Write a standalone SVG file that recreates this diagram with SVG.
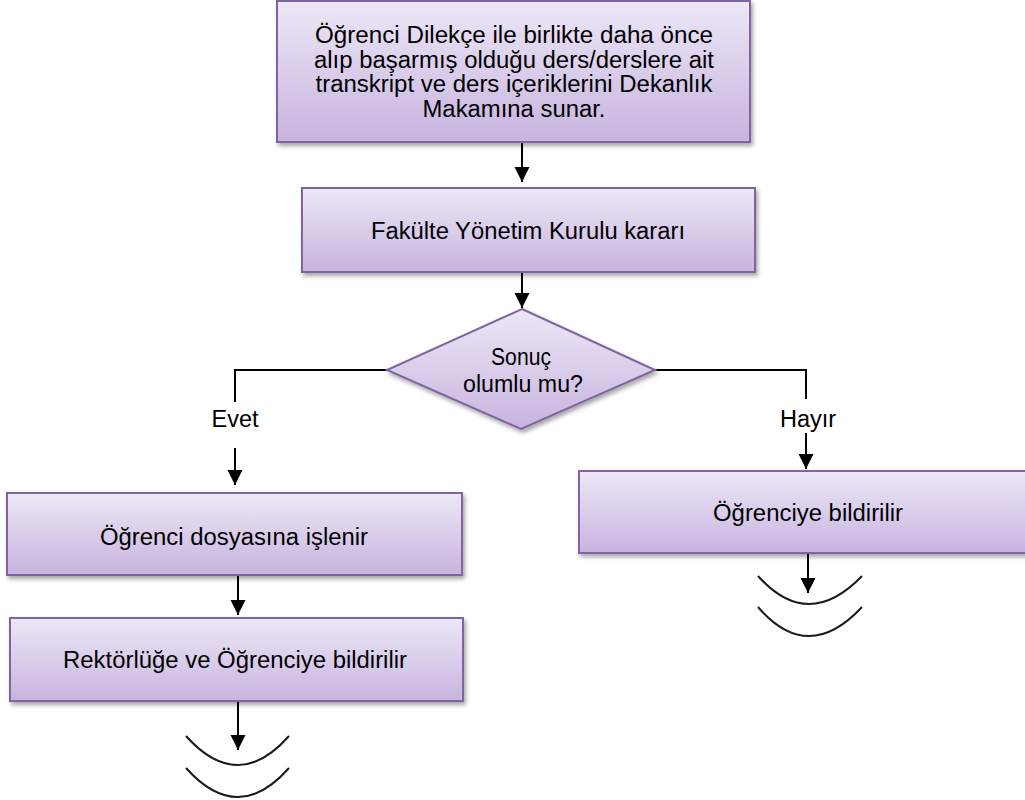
<svg xmlns="http://www.w3.org/2000/svg" width="1025" height="800" viewBox="0 0 1025 800">
  <style>
    .box { fill: url(#g); stroke: #8064a2; stroke-width: 2; filter: url(#sh); }
    .t { font-family: "Liberation Sans", Arial, sans-serif; font-size: 23.5px; fill: #000; text-anchor: middle; }
    .c { fill: none; stroke: #000; stroke-width: 2; }
    .arc { fill: none; stroke: #1a1a1a; stroke-width: 2; }
  </style>
  <defs>
    <linearGradient id="g" x1="0" y1="0" x2="0" y2="1">
      <stop offset="0" stop-color="#ede7f6"/>
      <stop offset="1" stop-color="#c7b4df"/>
    </linearGradient>
    <filter id="sh" x="-10%" y="-10%" width="130%" height="140%">
      <feDropShadow dx="2" dy="3" stdDeviation="2" flood-color="#000" flood-opacity="0.35"/>
    </filter>
    <marker id="ah" markerUnits="userSpaceOnUse" markerWidth="16" markerHeight="16" refX="15" refY="7.5" orient="auto">
      <path d="M0,0 L15,7.5 L0,15 Z" fill="#000"/>
    </marker>
  </defs>
  <rect width="1025" height="800" fill="#fff"/>

  <g id="connectors">
    <line class="c" x1="522" y1="142" x2="522" y2="182" marker-end="url(#ah)"/>
    <line class="c" x1="522" y1="273" x2="522" y2="308" marker-end="url(#ah)"/>
    <polyline class="c" points="387,370 235,370 235,402"/>
    <line class="c" x1="235" y1="448" x2="235" y2="485" marker-end="url(#ah)"/>
    <polyline class="c" points="655,370 806,370 806,399"/>
    <line class="c" x1="806" y1="433" x2="806" y2="469" marker-end="url(#ah)"/>
    <line class="c" x1="238" y1="576" x2="238" y2="615" marker-end="url(#ah)"/>
    <line class="c" x1="238" y1="702" x2="238" y2="750" marker-end="url(#ah)"/>
    <line class="c" x1="808" y1="554" x2="808" y2="593" marker-end="url(#ah)"/>
  </g>

  <g id="n1">
    <rect class="box" x="277" y="1" width="473" height="141"/>
    <text class="t" x="514" y="43" textLength="398" lengthAdjust="spacingAndGlyphs">Öğrenci Dilekçe ile birlikte daha önce</text>
    <text class="t" x="514" y="67.5" textLength="400" lengthAdjust="spacingAndGlyphs">alıp başarmış olduğu ders/derslere ait</text>
    <text class="t" x="514" y="92" textLength="397" lengthAdjust="spacingAndGlyphs">transkript ve ders içeriklerini Dekanlık</text>
    <text class="t" x="514" y="116.5" textLength="183" lengthAdjust="spacingAndGlyphs">Makamına sunar.</text>
  </g>

  <g id="n2">
    <rect class="box" x="302" y="188" width="453" height="84"/>
    <text class="t" x="528" y="239" textLength="314" lengthAdjust="spacingAndGlyphs">Fakülte Yönetim Kurulu kararı</text>
  </g>

  <g id="n3">
    <polygon class="box" points="522,309 655,370 521,429 387,370"/>
    <text class="t" x="521" y="365" textLength="60" lengthAdjust="spacingAndGlyphs">Sonuç</text>
    <text class="t" x="523" y="392" textLength="120" lengthAdjust="spacingAndGlyphs">olumlu mu?</text>
  </g>

  <g id="lbl-evet">
    <text class="t" x="235" y="427">Evet</text>
  </g>
  <g id="lbl-hayir">
    <text class="t" x="808" y="427">Hayır</text>
  </g>

  <g id="n4">
    <rect class="box" x="7" y="493" width="455" height="82"/>
    <text class="t" x="234" y="545" textLength="268" lengthAdjust="spacingAndGlyphs">Öğrenci dosyasına işlenir</text>
  </g>

  <g id="n5">
    <rect class="box" x="10" y="618" width="453" height="83"/>
    <text class="t" x="235" y="668" textLength="344" lengthAdjust="spacingAndGlyphs">Rektörlüğe ve Öğrenciye bildirilir</text>
  </g>

  <g id="n6">
    <rect class="box" x="579" y="471" width="455" height="82"/>
    <text class="t" x="808" y="521" textLength="190" lengthAdjust="spacingAndGlyphs">Öğrenciye bildirilir</text>
  </g>

  <g id="end-left">
    <path class="arc" d="M186,736 Q238,794 289,736"/>
    <path class="arc" d="M186,768 Q238,826 289,768"/>
  </g>
  <g id="end-right">
    <path class="arc" d="M758,576 Q808,632 862,576"/>
    <path class="arc" d="M758,607 Q808,665 862,607"/>
  </g>
</svg>
